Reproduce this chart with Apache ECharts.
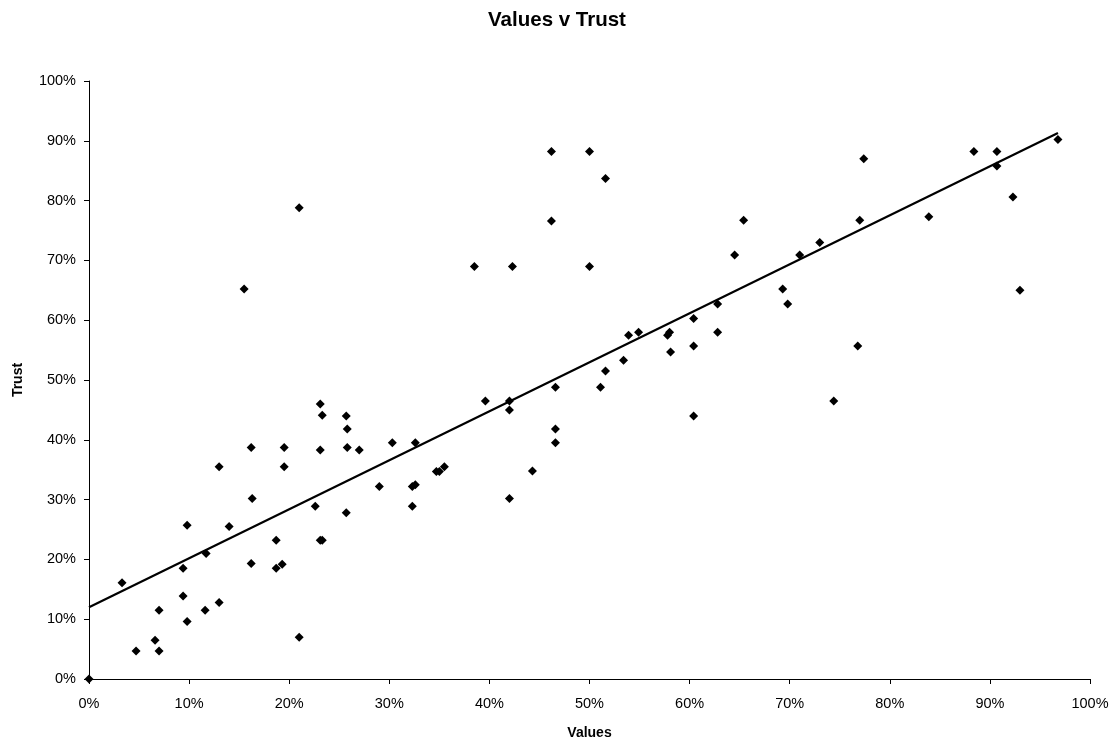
<!DOCTYPE html>
<html><head><meta charset="utf-8">
<script src="https://cdn.jsdelivr.net/npm/echarts@6/dist/echarts.min.js"></script>
<style>html,body{margin:0;padding:0;background:#fff}#c{width:1114px;height:740px}</style>
</head><body><div id="c"></div>
<script>
const valuesX = [0,3.3,4.7,6.6,7.0,7.0,9.4,9.4,9.8,9.8,11.6,11.7,13.0,13.0,14.0,15.5,16.2,16.3,16.2,18.7,18.7,19.3,19.5,19.5,21.0,21.0,22.6,23.1,23.3,23.1,23.1,23.3,25.7,25.8,25.8,27.0,25.7,29.0,30.3,32.6,32.3,32.6,32.3,34.7,35.0,35.5,38.5,39.6,42.0,42.0,42.0,42.3,44.3,46.2,46.2,46.6,46.6,46.6,50.0,50.0,51.6,51.6,51.1,53.4,53.9,54.9,57.8,58.0,58.1,60.4,60.4,60.4,62.8,62.8,64.5,65.4,69.3,69.8,71.0,73.0,74.4,76.8,77.0,77.4,83.9,88.4,90.7,90.7,92.3,93.0,96.8];
const trustY = [0,16.1,4.7,6.5,4.7,11.5,13.9,18.5,25.7,9.6,11.5,21.0,35.5,12.8,25.5,65.2,38.7,30.2,19.3,23.2,18.5,19.2,38.7,35.5,78.8,7.0,28.9,46.0,44.1,38.3,23.2,23.2,44.0,41.8,38.7,38.3,27.8,32.2,39.5,39.5,32.2,32.5,28.9,34.7,34.7,35.5,69.0,46.5,46.5,45.0,30.2,69.0,34.8,88.2,76.6,48.8,41.8,39.5,88.2,69.0,83.7,51.5,48.8,53.3,57.5,58.0,57.5,58.0,54.7,60.3,55.7,44.0,62.7,58.0,70.9,76.7,65.2,62.7,70.9,73.0,46.5,55.7,76.7,87.0,77.3,88.2,88.2,85.8,80.6,65.0,90.2];
const trendX = [0, 96.8];
const trendY = [12.0, 91.3];

const pts = valuesX.map((v, i) => [v, trustY[i]]);
const trend = trendX.map((v, i) => [v, trendY[i]]);
const font = 'Liberation Sans, Arial, sans-serif';
const axisCommon = {
  type: 'value', min: 0, max: 100, interval: 10,
  splitLine: { show: false },
  axisLine: { show: true, onZero: false, lineStyle: { color: '#000', width: 1 } },
  axisTick: { show: true, length: 5, lineStyle: { color: '#000' } },
  axisLabel: { color: '#000', fontSize: 14.5, fontFamily: font, formatter: v => v + '%' },
  nameLocation: 'middle',
  nameTextStyle: { color: '#000', fontSize: 14, fontWeight: 'bold', fontFamily: font }
};
const chart = echarts.init(document.getElementById('c'), null, { renderer: 'canvas' });
chart.setOption({
  animation: false,
  backgroundColor: '#fff',
  title: { text: 'Values v Trust', left: 'center', top: 5,
    textStyle: { color: '#000', fontSize: 20.5, fontWeight: 'bold', fontFamily: font } },
  grid: { left: 89, right: 24, top: 81, bottom: 61, containLabel: false, outerBoundsMode: 'none' },
  xAxis: Object.assign({}, axisCommon, { name: 'Values', nameGap: 47,
    axisLabel: Object.assign({}, axisCommon.axisLabel, { margin: 17 }) }),
  yAxis: Object.assign({}, axisCommon, { name: 'Trust', nameGap: 64,
    axisLabel: Object.assign({}, axisCommon.axisLabel, { margin: 13 }) }),
  series: [
    { type: 'scatter', data: pts, symbol: 'diamond', symbolSize: 9,
      itemStyle: { color: '#000', opacity: 1 }, z: 3 },
    { type: 'line', data: trend, symbol: 'none', lineStyle: { color: '#000', width: 2.2 }, z: 2 }
  ]
});
</script></body></html>
